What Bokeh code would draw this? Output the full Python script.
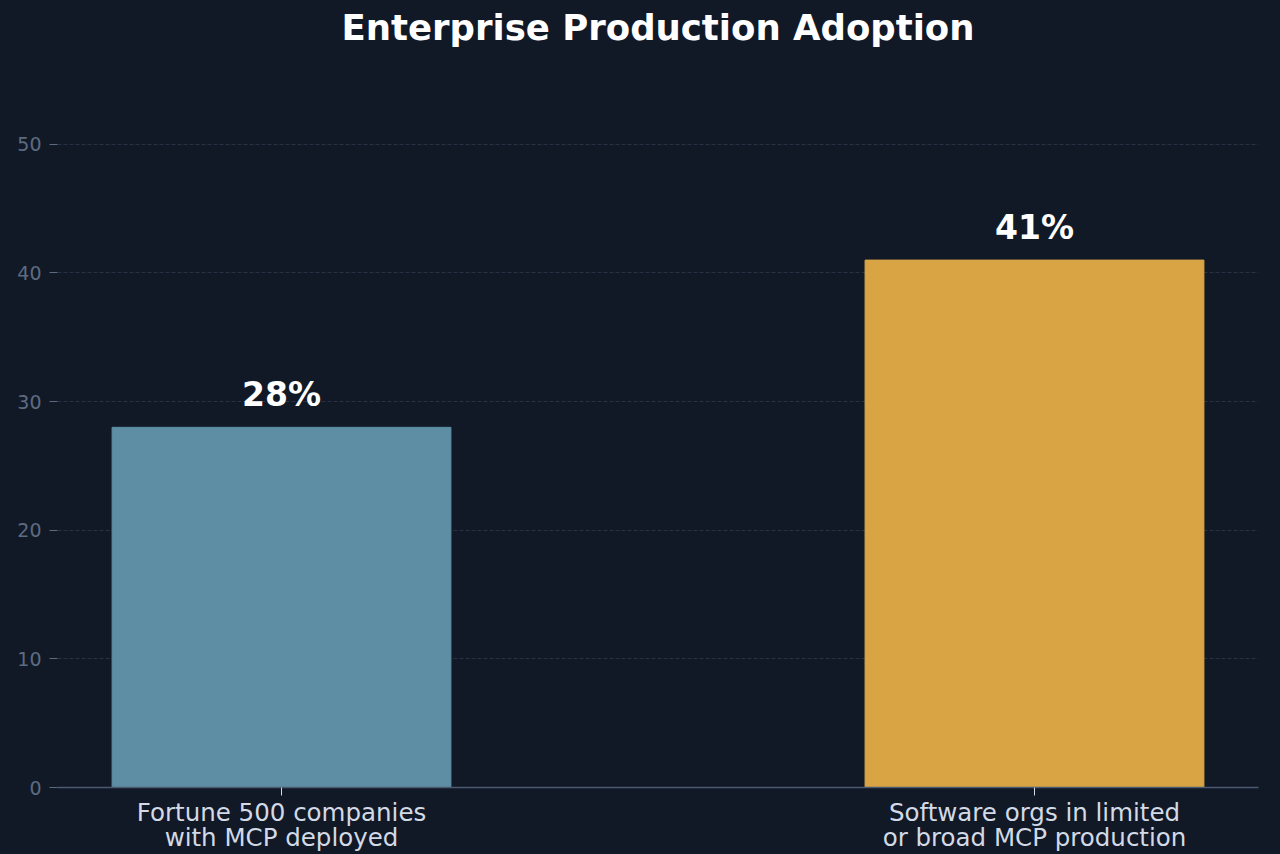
from bokeh.plotting import figure
from bokeh.models import Range1d, FixedTicker, ColumnDataSource, LabelSet
from bokeh.core.properties import value
from bokeh.embed import file_html
from bokeh.resources import INLINE

# ---- data ----
categories = ["Fortune 500 companies\nwith MCP deployed",
              "Software orgs in limited\nor broad MCP production"]
values = [28, 41]
value_labels = ["28%", "41%"]
bar_colors = ["#5e8ea3", "#d9a443"]
y_ticks = [0, 10, 20, 30, 40, 50]

BG = "#111927"
FONT = "DejaVu Sans"

x_pos = list(range(len(categories)))
src = ColumnDataSource(dict(x=x_pos, top=values, color=bar_colors, lab=value_labels))

p = figure(width=1280, height=854, output_backend="svg", toolbar_location=None,
           x_range=Range1d(-0.2975, 1.2975), y_range=Range1d(0, 57.45),
           background_fill_color=BG, border_fill_color=BG,
           min_border_left=57, min_border_right=22, min_border_top=48,
           min_border_bottom=66,
           title="Enterprise Production Adoption")
p.outline_line_color = None

p.title.text_font = FONT
p.title.text_font_size = "35.5px"
p.title.text_font_style = "bold"
p.title.text_color = "#ffffff"
p.title.align = "center"
p.title.standoff = 2

p.vbar(x="x", top="top", width=0.45, color="color", source=src)

labels = LabelSet(x="x", y="top", text="lab", source=src, y_offset=21,
                  text_align="center", text_baseline="alphabetic",
                  text_font=value(FONT), text_font_size="33px",
                  text_font_style="bold", text_color="#ffffff")
p.add_layout(labels)

# x axis
p.xaxis.ticker = FixedTicker(ticks=x_pos)
p.xaxis.major_label_overrides = {i: c for i, c in zip(x_pos, categories)}
p.xaxis.major_label_text_font = FONT
p.xaxis.major_label_text_font_size = "24.5px"
p.xaxis.major_label_text_color = "#d3dae6"
p.xaxis.major_label_text_line_height = 0.87
p.xaxis.major_label_standoff = 2
p.xaxis.axis_line_color = "#4a5a70"
p.xaxis.axis_line_width = 1.5
p.xaxis.major_tick_line_color = "#d3dae6"
p.xaxis.major_tick_out = 8
p.xaxis.major_tick_in = 0
p.xaxis.minor_tick_line_color = None

# y axis
p.yaxis.ticker = FixedTicker(ticks=y_ticks)
p.yaxis.major_label_text_font = FONT
p.yaxis.major_label_text_font_size = "19px"
p.yaxis.major_label_text_color = "#5d6b80"
p.yaxis.axis_line_color = None
p.yaxis.major_tick_line_color = "#5d6b80"
p.yaxis.major_tick_out = 8
p.yaxis.major_tick_in = 0
p.yaxis.minor_tick_line_color = None
p.yaxis.major_label_standoff = 8

p.xgrid.grid_line_color = None
p.ygrid.grid_line_color = "#283244"
p.ygrid.grid_line_dash = "4 2"
p.ygrid.grid_line_width = 1

html = file_html(p, INLINE)
html = html.replace("<head>", "<head><style>html,body{background:#111927;}</style>", 1)
open("out.html", "w").write(html)
